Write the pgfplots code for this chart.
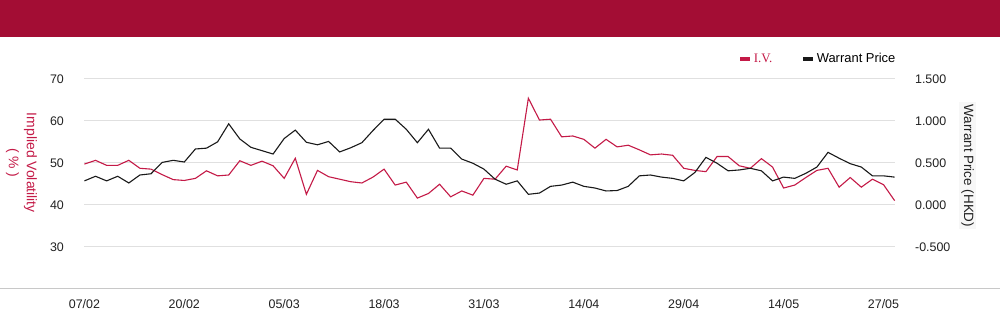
\documentclass[border=0pt]{standalone}
\usepackage{fontspec}
\setmainfont{Liberation Sans}
\newfontfamily\seriffont{Liberation Serif}
\usepackage{pgfplots}
\pgfplotsset{compat=1.18}
\usepackage{pgfplotstable}
\definecolor{banner}{HTML}{A30D34}
\definecolor{ivred}{HTML}{C41A47}
\definecolor{gridc}{HTML}{E0E0E0}
\definecolor{axc}{HTML}{C8C8C8}
\definecolor{txt}{HTML}{222222}
\definecolor{labbg}{HTML}{F7F7F7}

\pgfplotstableread{
i iv wp
0 49.7 0.285
1 50.6 0.34
2 49.4 0.285
3 49.4 0.34
4 50.6 0.26
5 48.7 0.355
6 48.5 0.37
7 47.2 0.505
8 46.0 0.53
9 45.8 0.51
10 46.3 0.665
11 48.1 0.675
12 46.9 0.75
13 47.1 0.965
14 50.5 0.785
15 49.4 0.685
16 50.4 0.645
17 49.3 0.605
18 46.3 0.79
19 51.1 0.89
20 42.5 0.745
21 48.2 0.715
22 46.7 0.755
23 46.1 0.63
24 45.5 0.68
25 45.2 0.74
26 46.6 0.885
27 48.5 1.02
28 44.7 1.02
29 45.4 0.9
30 41.6 0.74
31 42.7 0.9
32 44.9 0.675
33 41.9 0.675
34 43.3 0.545
35 42.3 0.495
36 46.3 0.425
37 46.1 0.305
38 49.2 0.245
39 48.3 0.285
40 65.4 0.125
41 60.2 0.14
42 60.4 0.22
43 56.2 0.235
44 56.4 0.27
45 55.6 0.22
46 53.5 0.2
47 55.6 0.165
48 53.8 0.17
49 54.2 0.22
50 53.1 0.345
51 51.9 0.355
52 52.1 0.33
53 51.8 0.315
54 48.7 0.285
55 48.2 0.385
56 47.9 0.565
57 51.5 0.495
58 51.5 0.405
59 49.3 0.415
60 48.7 0.435
61 51.0 0.405
62 49.0 0.285
63 44.0 0.33
64 44.7 0.315
65 46.5 0.375
66 48.2 0.45
67 48.7 0.625
68 44.2 0.555
69 46.5 0.49
70 44.2 0.45
71 46.1 0.345
72 44.8 0.345
73 41.0 0.33
}\data

\begin{document}
\begin{tikzpicture}[x=1bp,y=1bp]
\fill[white] (0,0) rectangle (1000,324);
\fill[banner] (0,287) rectangle (1000,324);
\draw[axc, line width=1bp] (0,35) -- (1000,35);
\pgfplotsset{common/.style={
  scale only axis, width=811bp, height=252bp, at={(84bp,35bp)}, anchor=south west,
  xmin=0, xmax=73, axis line style={draw=none}, major tick length=0pt,
  tick label style={font=\fontsize{12.5}{14}\selectfont, text=txt},
  /pgf/number format/assume math mode=true,
  clip=false,
}}
\begin{axis}[common, ymin=20, ymax=80, ytick={30,40,50,60,70},
  ymajorgrids, grid style={gridc, line width=1bp},
  xtick={0,9,...,72}, xticklabels={07/02,20/02,05/03,18/03,31/03,14/04,29/04,14/05,27/05},
  xticklabel style={yshift=-7bp},
  yticklabel style={xshift=-17bp},
  axis y line*=left, axis x line*=bottom]
\addplot[ivred, line width=1.1bp] table[x=i, y=iv] {\data};
\end{axis}
\begin{axis}[common, ymin=-1, ymax=2, ytick={-0.5,0,0.5,1,1.5},
  axis y line*=right, axis x line=none,
  yticklabel style={xshift=17bp, /pgf/number format/.cd, fixed, fixed zerofill, precision=3},
  legend style={at={(1,0.913)}, anchor=east, xshift=3bp, draw=none, fill=none, inner sep=0pt,
    font=\fontsize{13}{15}\selectfont, legend columns=2,
    /tikz/every even column/.append style={column sep=27bp}},
  legend image code/.code={\draw[#1, line width=3.5bp] (0bp,0bp) -- (10bp,0bp);},
  ]
\addlegendimage{ivred, line width=1.1bp}
\addlegendentry[text=ivred, font=\fontsize{13}{15}\seriffont, xshift=2bp]{I.V.}
\addplot[black!90, line width=1.1bp] table[x=i, y=wp] {\data};
\addlegendentry{Warrant Price}
\end{axis}
\node[rotate=-90, align=center, text=ivred, font=\fontsize{14}{18}\selectfont] at (21,161) {Implied Volatility\\( \% )};
\node[rotate=-90, fill=labbg, inner sep=2bp, text=txt, font=\fontsize{13.5}{16}\selectfont] at (968,158) {Warrant Price (HKD)};
\end{tikzpicture}
\end{document}
